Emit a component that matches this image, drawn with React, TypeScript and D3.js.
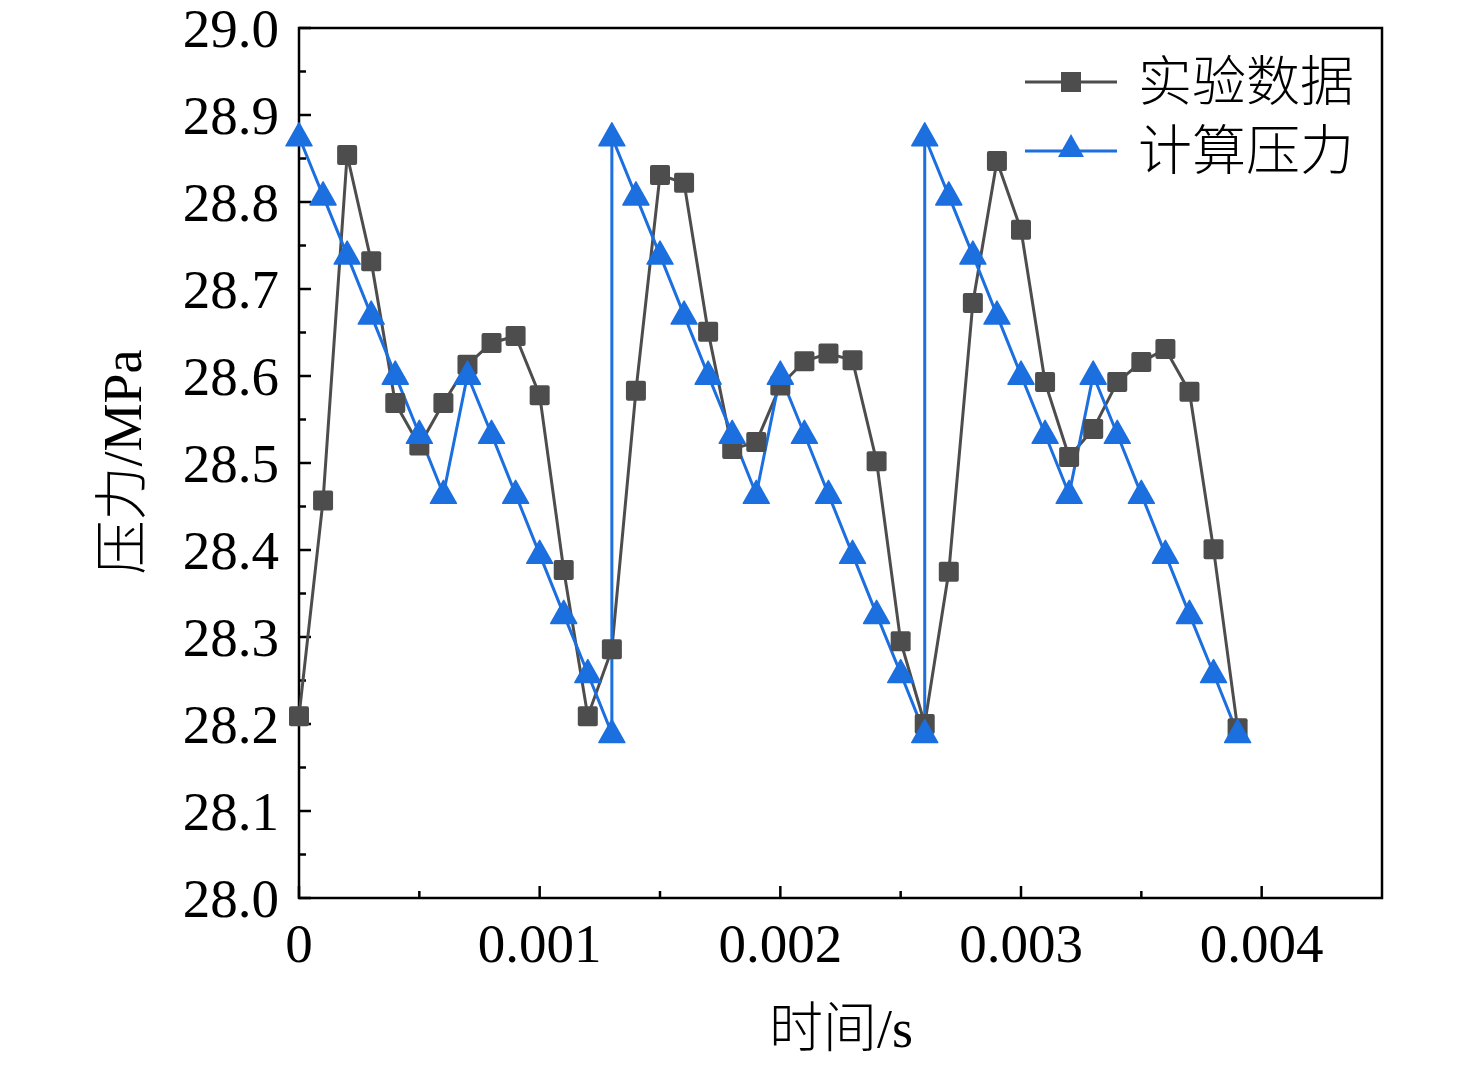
import { line, scaleLinear, range } from 'd3';

// time step 0.0001 s
const expTime = range(0, 40).map((i) => i * 0.0001);
const expValues = [
  28.209, 28.457, 28.854, 28.732, 28.569, 28.52, 28.569, 28.613, 28.638, 28.646,
  28.578, 28.377, 28.209, 28.286, 28.583, 28.831, 28.822, 28.651, 28.516, 28.524,
  28.589, 28.617, 28.626, 28.618, 28.502, 28.295, 28.2, 28.375, 28.684, 28.847,
  28.768, 28.593, 28.507, 28.539, 28.593, 28.616, 28.631, 28.582, 28.401, 28.195,
];

const calcTime = [
  0, 0.0001, 0.0002, 0.0003, 0.0004, 0.0005, 0.0006, 0.0007, 0.0008, 0.0009,
  0.001, 0.0011, 0.0012, 0.0013, 0.0013, 0.0014, 0.0015, 0.0016, 0.0017, 0.0018,
  0.0019, 0.002, 0.0021, 0.0022, 0.0023, 0.0024, 0.0025, 0.0026, 0.0026, 0.0027,
  0.0028, 0.0029, 0.003, 0.0031, 0.0032, 0.0033, 0.0034, 0.0035, 0.0036, 0.0037,
  0.0038, 0.0039,
];
const calcValues = [
  28.875, 28.807, 28.739, 28.67, 28.601, 28.533, 28.464, 28.601, 28.533, 28.464,
  28.395, 28.326, 28.258, 28.189, 28.875, 28.807, 28.739, 28.67, 28.601, 28.533,
  28.464, 28.601, 28.533, 28.464, 28.395, 28.326, 28.258, 28.189, 28.875, 28.807,
  28.739, 28.67, 28.601, 28.533, 28.464, 28.601, 28.533, 28.464, 28.395, 28.326,
  28.258, 28.189,
];

const xMajor = [0, 0.001, 0.002, 0.003, 0.004];
const xMajorLabels = ['0', '0.001', '0.002', '0.003', '0.004'];
const xMinor = [0.0005, 0.0015, 0.0025, 0.0035];
const yMajor = [28.0, 28.1, 28.2, 28.3, 28.4, 28.5, 28.6, 28.7, 28.8, 28.9, 29.0];
const yMinor = [28.05, 28.15, 28.25, 28.35, 28.45, 28.55, 28.65, 28.75, 28.85, 28.95];

const seriesNames = ['实验数据', '计算压力'];
const GRAY = '#4d4d4d';
const BLUE = '#1b6fdf';
const FONT = "'Liberation Serif', 'Times New Roman', 'Noto Sans CJK SC', serif";
const CJK = "'Noto Sans CJK SC', sans-serif";

export default function App() {
  const width = 1476;
  const height = 1068;
  const plot = { left: 299, top: 28, right: 1382, bottom: 898 };

  const x = scaleLinear().domain([0, 0.0045]).range([plot.left, plot.right]);
  const y = scaleLinear().domain([28.0, 29.0]).range([plot.bottom, plot.top]);

  const expPts = expTime.map((t, i) => [x(t), y(expValues[i])] as [number, number]);
  const calcPts = calcTime.map((t, i) => [x(t), y(calcValues[i])] as [number, number]);
  const path = line();

  const sq = 20;
  const tri = (cx: number, cy: number) =>
    `M${cx},${cy - 14} L${cx + 13},${cy + 9} L${cx - 13},${cy + 9} Z`;

  return (
    <svg
      width={width}
      height={height}
      style={{ position: 'absolute', left: 0, top: 0, background: '#fff' }}
      fontFamily={FONT}
    >
      {/* frame */}
      <rect
        x={plot.left}
        y={plot.top}
        width={plot.right - plot.left}
        height={plot.bottom - plot.top}
        fill="none"
        stroke="#000"
        strokeWidth={2.5}
      />

      {/* y ticks */}
      {yMajor.map((v) => (
        <g key={`ym${v}`}>
          <line x1={plot.left} x2={plot.left + 12} y1={y(v)} y2={y(v)} stroke="#000" strokeWidth={2.5} />
          <text x={279} y={y(v)} dy="0.35em" textAnchor="end" fontSize={55}>
            {v.toFixed(1)}
          </text>
        </g>
      ))}
      {yMinor.map((v) => (
        <line key={`yn${v}`} x1={plot.left} x2={plot.left + 7} y1={y(v)} y2={y(v)} stroke="#000" strokeWidth={2.5} />
      ))}

      {/* x ticks */}
      {xMajor.map((v, i) => (
        <g key={`xm${v}`}>
          <line x1={x(v)} x2={x(v)} y1={plot.bottom} y2={plot.bottom - 12} stroke="#000" strokeWidth={2.5} />
          <text x={x(v)} y={962} textAnchor="middle" fontSize={55}>
            {xMajorLabels[i]}
          </text>
        </g>
      ))}
      {xMinor.map((v) => (
        <line key={`xn${v}`} x1={x(v)} x2={x(v)} y1={plot.bottom} y2={plot.bottom - 7} stroke="#000" strokeWidth={2.5} />
      ))}

      {/* axis titles */}
      <text x={841} y={1047} textAnchor="middle" fontSize={54}>
        <tspan fontFamily={CJK} fontWeight={300}>时间</tspan>/s
      </text>
      <text transform="translate(141, 462) rotate(-90)" textAnchor="middle" fontSize={54}>
        <tspan fontFamily={CJK} fontWeight={300}>压力</tspan>/MPa
      </text>

      {/* series lines */}
      <path d={path(expPts) ?? ''} fill="none" stroke={GRAY} strokeWidth={3} />
      <path d={path(calcPts) ?? ''} fill="none" stroke={BLUE} strokeWidth={3} />

      {/* markers */}
      {expPts.map(([cx, cy], i) => (
        <rect key={`s${i}`} x={cx - sq / 2} y={cy - sq / 2} width={sq} height={sq} rx={2} fill={GRAY} />
      ))}
      {calcPts.map(([cx, cy], i) => (
        <path key={`t${i}`} d={tri(cx, cy)} fill={BLUE} stroke={BLUE} strokeWidth={1.5} strokeLinejoin="round" />
      ))}

      {/* legend */}
      <g>
        <line x1={1025} x2={1117} y1={82} y2={82} stroke={GRAY} strokeWidth={3} />
        <rect x={1071 - sq / 2} y={82 - sq / 2} width={sq} height={sq} fill={GRAY} />
        <text x={1138} y={82} dy="0.36em" fontSize={54} fontFamily={CJK} fontWeight={300}>
          {seriesNames[0]}
        </text>
        <line x1={1025} x2={1117} y1={151} y2={151} stroke={BLUE} strokeWidth={3} />
        <path d={tri(1071, 148)} fill={BLUE} />
        <text x={1138} y={151} dy="0.36em" fontSize={54} fontFamily={CJK} fontWeight={300}>
          {seriesNames[1]}
        </text>
      </g>
    </svg>
  );
}
